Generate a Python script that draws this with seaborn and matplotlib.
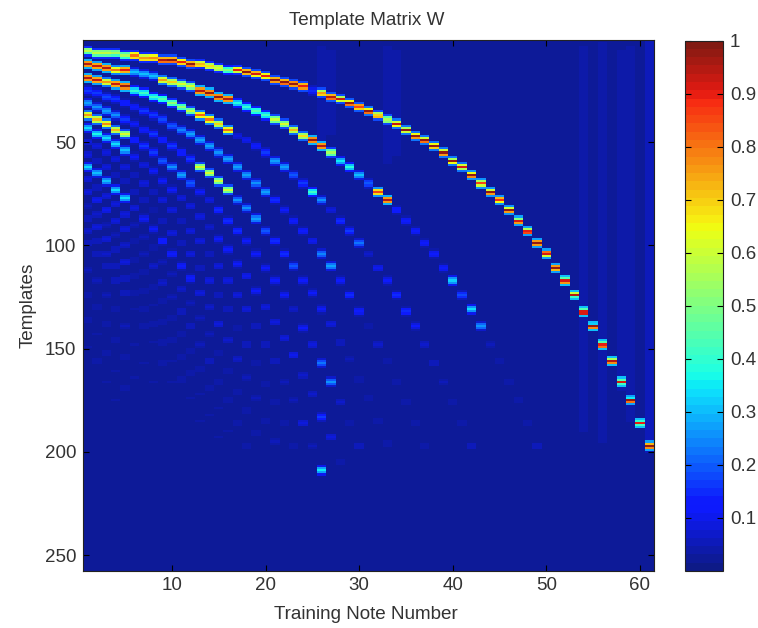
import numpy as np
import matplotlib
matplotlib.use('Agg')
import matplotlib.pyplot as plt
from matplotlib.colors import ListedColormap
import seaborn as sns

# fundamental, index = note - 1
h1_rows = [6,7,7,7,8,8,9,9,10,10,11,12,12,13,14,15,15,16,17,18,20,21,22,23,25,26,28,29,31,33,35,37,39,41,44,47,49,52,55,59,62,66,70,74,78,83,88,93,99,104,111,117,124,132,139,148,156,166,175,186,197]
h1_vals = [.58,.58,.58,.56,.55,.8,.75,.78,.95,.97,.9,.97,.72,.68,.62,.5,.9,.97,.92,.9,.97,.97,.97,.9,.15,.75,.95,.93,.97,.85,.97,.7,.55,.93,.97,.98,.97,.98,.97,.97,.92,.97,.85,.97,.88,.97,.92,.9,.97,.92,.97,.92,.95,.92,.97,.9,.95,.92,.97,.9,.97]
h1_up = [.5,.5,.5,.48,.45,.65,.6,.65,.72,.72,.65,.72,.6,.55,.55,.4,.65,.72,.72,.65,.72,.72,.78,.72,.1,.55,.72,.55,.65,.75,.65,.55,.45,.6,.55,.65,.6,.65,.6,.55,.6,.65,.55,.6,.72,.6,.5,.55,.75,.8,.75,.45,.6,.45,.32,.45,.55,.45,.35,.4,.72]
h1_down = [.45,.45,.45,.42,.4,.68,.68,.68,.8,.8,.7,.8,.68,.58,.55,.4,.6,.72,.65,.65,.75,.8,.75,.75,.1,.7,.8,.6,.8,.7,.8,.72,.5,.65,.6,.75,.8,.7,.75,.65,.55,.78,.6,.75,.65,.75,.75,.85,.75,.6,.72,.75,.42,.92,.78,.8,.78,.42,.8,.42,.78]
h1_outer = [.15,.15,.15,.15,.15,.15,.15,.15,.18,.18,.18,.18,.15,.15,.15,.12,.15,.18,.18,.18,.18,.18,.18,.18,.05,.18,.2,.18,.2,.2,.22,.18,.18,.22,.22,.22,.22,.22,.22,.22,.22,.25,.25,.25,.25,.25,.28,.28,.28,.28,.28,.3,.3,.3,.3,.3,.3,.3,.28,.3,.28]

# upper partials, first entry = note 1
h2_rows = [12,13,14,15,15,16,17,18,20,21,22,23,25,26,28,29,31,33,35,37,39,41,44,47,49,52,55,59,62,66,70,74,78,83,88,93,99,104,111,117,124,131,139,148,156,166,175,186,197]
h2_vals = [.95,.93,.95,.8,.9,.3,.3,.3,.75,.7,.62,.62,.95,.97,.97,.95,.38,.4,.45,.42,.6,.62,.72,.68,.97,.95,.55,.35,.38,.3,.2,.85,.95,.14,.13,.13,.12,.13,.13,.32,.18,.33,.26,.05,.045,.04,.04,.04,.06]
h3_rows = [19,20,21,22,23,25,26,28,29,31,33,35,37,39,41,44,47,49,52,55,59,62,66,70,74,78,83,88,93,99,104,111,117,124,132,139,148,157,166,176,186,197]
h3_vals = [.95,.93,.75,.93,.97,.4,.42,.42,.45,.52,.52,.58,.82,.8,.7,.8,.09,.1,.12,.16,.28,.28,.2,.16,.42,.25,.09,.15,.17,.22,.07,.1,.11,.15,.15,.11,.07,.06,.05,.045,.045,.06]
h4_rows = [25,26,28,29,31,33,35,37,39,42,44,46,49,52,55,58,62,66,70,74,78,83,88,93,98,104,110,117,124,132,139,148,156,166,176,186,197]
h4_vals = [.16,.16,.18,.16,.14,.13,.16,.16,.18,.2,.24,.28,.28,.28,.25,.28,.28,.28,.25,.28,.15,.11,.13,.13,.1,.24,.28,.11,.15,.13,.045,.07,.04,.04,.04,.04,.04]
h5_rows = [31,33,35,37,39,41,44,46,49,52,55,58,62,65,69,73,78,82,87,93,98,104,110,117,123,131,138,147,155,165,174,185,196]
h5_vals = [.28,.25,.28,.25,.16,.11,.13,.16,.14,.16,.14,.16,.62,.62,.6,.6,.25,.25,.28,.2,.15,.15,.2,.11,.11,.11,.09,.06,.05,.045,.045,.04,.04]
h6_rows = [37,39,41,44,46,49,52,55,59,62,66,70,74,78,83,88,93,98,104,111,117,124,131,140,148,157,166,176,186,197]
h6_vals = [.75,.72,.78,.72,.62,.14,.16,.17,.2,.25,.28,.2,.11,.09,.15,.15,.15,.11,.11,.11,.11,.11,.07,.11,.09,.22,.25,.07,.045,.06]
h7_rows = [43,46,48,51,54,57,61,64,69,73,77,81,86,91,97,102,109,115,122,130,137,145,153,163,172,183,193,205]
h7_vals = [.33,.36,.33,.33,.3,.11,.09,.11,.11,.11,.09,.09,.09,.07,.11,.11,.11,.1,.11,.09,.09,.09,.1,.07,.07,.16,.09,.045]
h8_rows = [50,52,55,58,62,66,70,74,78,83,88,93,98,104,110,117,124,131,139,148,156,166,175,186,197,209]
h8_vals = [.08,.08,.08,.08,.08,.06,.08,.06,.08,.08,.06,.08,.08,.06,.08,.08,.09,.08,.06,.06,.06,.05,.05,.08,.05,.35]
h9_rows = [56,59,62,66,69,74,78,83,88,94,99,104,111,117,124,131,140,148,157,167,176,186,197]
h9_vals = [.08,.06,.08,.06,.06,.06,.06,.045,.06,.08,.06,.08,.06,.08,.06,.06,.045,.06,.045,.045,.04,.04,.04]
h10_rows = [62,65,69,73,77,82,87,92,98,104,110,116,123,130,138,146,155,164,174,185,195]
h10_vals = [.33,.3,.3,.33,.33,.09,.11,.11,.14,.13,.13,.13,.09,.07,.09,.07,.07,.05,.05,.045,.05]
h11_rows = [68,72,76,80,85,90,96,101,108,114,121,128,135,143,152,161,171,180,191]
h11_vals = [.08,.06,.08,.08,.08,.05,.05,.045,.05,.05,.07,.05,.05,.05,.04,.045,.045,.04,.04]
h12_rows = [74,78,83,88,92,98,104,110,118,125,132,139,148,156,166,175,186,197]
h12_vals = [.08,.1,.1,.09,.08,.045,.05,.07,.07,.05,.06,.06,.05,.06,.045,.045,.04,.04]
h13_rows = [81,85,90,95,100,107,113,120,127,135,143,151,160,169,179,190]
h13_vals = [.05,.07,.05,.05,.07,.045,.045,.04,.04,.045,.04,.045,.045,.04,.035,.035]
h14_rows = [87,91,97,102,108,115,122,129,137,146,154,162,172,182,193]
h14_vals = [.06,.08,.08,.06,.08,.04,.045,.035,.045,.045,.04,.04,.035,.035,.035]
h15_rows = [93,98,104,110,116,123,131,138,147,156,165,174,185,195]
h15_vals = [.07,.06,.07,.06,.06,.04,.04,.04,.045,.035,.045,.035,.035,.03]
h16_rows = [99,104,110,117,123,131,139,147,157,166,176,186,197]
h16_vals = [.06,.06,.06,.06,.06,.035,.04,.035,.04,.035,.03,.03,.03]
h18_rows = [112,117,124,131,139,148,157,166,176,187,198]
h18_vals = [.05,.05,.05,.045,.055,.035,.035,.035,.03,.03,.03]
h20_rows = [124,130,138,146,154,164,174,184,196]
h20_vals = [.045,.045,.04,.045,.045,.035,.03,.03,.03]
h22_rows = [136,143,152,161,169,180,191]
h22_vals = [.04,.035,.04,.035,.04,.03,.03]
h24_rows = [149,156,166,175,185,197]
h24_vals = [.035,.04,.035,.035,.03,.03]

# faint vertical stripes: note, first row, last row, level
faint_notes = [26,27,33,34,36,41,47,48,52,54,55,56,58,59,60,61]
faint_first = [4,6,4,6,8,8,8,4,6,4,6,2,6,4,8,1]
faint_last = [52,46,60,56,46,50,70,90,110,190,150,195,170,185,120,200]
faint_vals = [.036,.032,.032,.034,.028,.028,.028,.03,.028,.036,.03,.038,.032,.036,.03,.06]

x_ticks = [10,20,30,40,50,60]
y_ticks = [50,100,150,200,250]
cbar_ticks = [.1,.2,.3,.4,.5,.6,.7,.8,.9,1]
cbar_labels = ['0.1','0.2','0.3','0.4','0.5','0.6','0.7','0.8','0.9','1']

n_rows = 257
n_notes = 61
W = np.full((n_rows, n_notes), .022)

for note, a, b, v in zip(faint_notes, faint_first, faint_last, faint_vals):
    W[a-1:b, note-1] = v

tracks = [(h2_rows,h2_vals),(h3_rows,h3_vals),(h4_rows,h4_vals),(h5_rows,h5_vals),(h6_rows,h6_vals),
          (h7_rows,h7_vals),(h8_rows,h8_vals),(h9_rows,h9_vals),(h10_rows,h10_vals),(h11_rows,h11_vals),
          (h12_rows,h12_vals),(h13_rows,h13_vals),(h14_rows,h14_vals),(h15_rows,h15_vals),(h16_rows,h16_vals),
          (h18_rows,h18_vals),(h20_rows,h20_vals),(h22_rows,h22_vals),(h24_rows,h24_vals)]

# each partial covers three or four rows in the picture
for rows, vals in tracks:
    for i, (r, v) in enumerate(zip(rows, vals)):
        W[r-1, i] = max(W[r-1, i], v)
        for d, f in [(-1, .8), (1, .8), (-2, .3), (2, .3)]:
            W[r-1+d, i] = max(W[r-1+d, i], v * f)

for i in range(n_notes):
    r = h1_rows[i] - 1
    W[r, i] = max(W[r, i], h1_vals[i])
    W[r-1, i] = max(W[r-1, i], h1_up[i])
    W[r+1, i] = max(W[r+1, i], h1_down[i])
    W[r-2, i] = max(W[r-2, i], h1_outer[i])
    W[r+2, i] = max(W[r+2, i], h1_outer[i])

# jet as it looks in the screenshot, a bit washed out
jet = plt.get_cmap('jet', 64)(np.arange(64))[:, :3]
washed = ListedColormap(np.clip(jet * .92 + np.array([.05, .1, .07]), 0, 1))

plt.rcParams['font.family'] = ['Liberation Sans', 'DejaVu Sans']
text_col = '#333333'

fig = plt.figure(figsize=(7.58, 6.28), dpi=100)
ax = fig.add_axes([83/758, 1-570.5/628, 571/758, 530.5/628])
cax = fig.add_axes([685/758, 1-571/628, 38/758, 530.5/628])

sns.heatmap(W, ax=ax, cbar_ax=cax, cmap=washed, vmin=0, vmax=1,
            xticklabels=False, yticklabels=False, cbar_kws={'ticks': cbar_ticks})

ax.set_xticks(np.array(x_ticks) - .5)
ax.set_xticklabels(x_ticks)
ax.set_yticks(np.array(y_ticks) - .5)
ax.set_yticklabels(y_ticks)
ax.tick_params(direction='in', length=4, width=.8, top=True, right=True, bottom=True, left=True,
               labelsize=13.5, labelcolor=text_col, pad=5, labelrotation=0)
for s in ax.spines.values():
    s.set_visible(True)
    s.set_linewidth(.8)
    s.set_color('#222222')

ax.set_title('Template Matrix W', fontsize=13.6, color=text_col, pad=11, x=.497)
ax.set_xlabel('Training Note Number', fontsize=13.6, color=text_col, labelpad=8, x=.495)
ax.set_ylabel('Templates', fontsize=13.6, color=text_col, labelpad=6)

cbar = ax.collections[0].colorbar
cbar.set_ticklabels(cbar_labels)
cax.tick_params(direction='in', length=4, width=.8, left=True, right=True, labelsize=13.5,
                labelcolor=text_col, pad=5)
cbar.outline.set_visible(True)
cbar.outline.set_linewidth(.8)
cbar.outline.set_edgecolor('#222222')

fig.savefig('out.png', dpi=100)
